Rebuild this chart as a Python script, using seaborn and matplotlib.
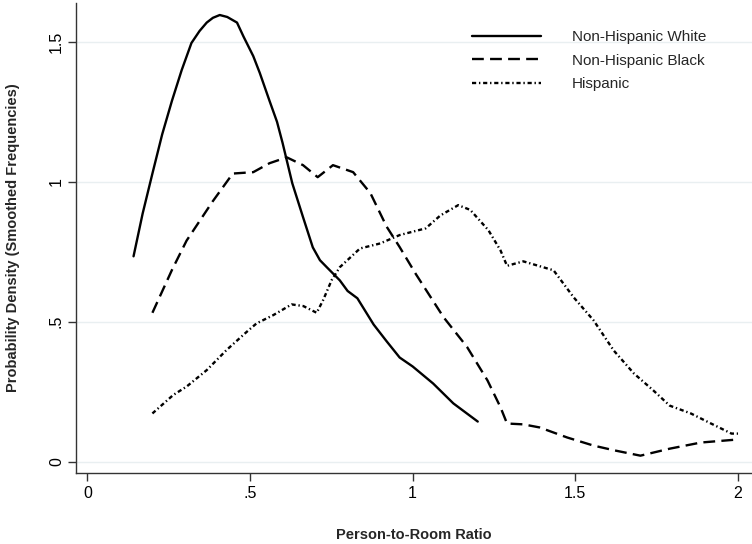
import pandas as pd
import seaborn as sns
import matplotlib.pyplot as plt

# values
white_x = [0.142, 0.17, 0.20, 0.23, 0.26, 0.29, 0.32, 0.345, 0.367, 0.386, 0.407, 0.43, 0.46,
           0.48, 0.51, 0.53, 0.56, 0.583, 0.60, 0.63, 0.663, 0.693, 0.715, 0.736, 0.776, 0.80,
           0.83, 0.88, 0.92, 0.96, 1.0, 1.063, 1.125, 1.2]
white_y = [0.734, 0.887, 1.03, 1.17, 1.29, 1.40, 1.497, 1.54, 1.57, 1.587, 1.597, 1.59, 1.57,
           1.52, 1.45, 1.39, 1.29, 1.215, 1.14, 0.995, 0.874, 0.766, 0.72, 0.695, 0.648, 0.61,
           0.584, 0.49, 0.43, 0.372, 0.34, 0.279, 0.208, 0.143]

black_x = [0.2, 0.26, 0.305, 0.385, 0.447, 0.51, 0.56, 0.613, 0.663, 0.708, 0.755, 0.817, 0.87,
           0.92, 0.96, 1.01, 1.095, 1.167, 1.23, 1.27, 1.29, 1.34, 1.39, 1.475, 1.556, 1.62,
           1.70, 1.79, 1.886, 2.0]
black_y = [0.532, 0.685, 0.79, 0.93, 1.03, 1.035, 1.067, 1.088, 1.06, 1.017, 1.06, 1.035, 0.96,
           0.84, 0.767, 0.67, 0.516, 0.41, 0.29, 0.194, 0.136, 0.133, 0.122, 0.086, 0.057, 0.04,
           0.021, 0.046, 0.068, 0.079]

hisp_x = [0.2, 0.264, 0.305, 0.367, 0.428, 0.49, 0.52, 0.572, 0.628, 0.664, 0.705, 0.725, 0.751,
          0.776, 0.838, 0.90, 0.96, 1.04, 1.085, 1.14, 1.177, 1.233, 1.27, 1.29, 1.34, 1.433,
          1.495, 1.556, 1.618, 1.68, 1.74, 1.79, 1.855, 1.917, 1.98, 2.0]
hisp_y = [0.172, 0.238, 0.268, 0.327, 0.399, 0.464, 0.494, 0.524, 0.562, 0.556, 0.532, 0.578,
          0.649, 0.695, 0.762, 0.78, 0.81, 0.834, 0.88, 0.917, 0.9, 0.827, 0.755, 0.70, 0.716,
          0.684, 0.587, 0.505, 0.397, 0.315, 0.254, 0.2, 0.172, 0.136, 0.10, 0.10]

x_ticks = [0, 0.5, 1, 1.5, 2]
x_labels = ["0", ".5", "1", "1.5", "2"]
y_ticks = [0, 0.5, 1, 1.5]
y_labels = ["0", ".5", "1", "1.5"]

sns.set_theme(style="white")
plt.rcParams['font.family'] = ['Liberation Sans', 'DejaVu Sans']
plt.rcParams['lines.scale_dashes'] = False

fig = plt.figure(figsize=(7.52, 5.44), dpi=100)
ax = fig.add_axes([0.1007, 0.1305, 0.8993, 0.864])

# light grid first so curves sit on top
for yv in y_ticks:
    ax.axhline(yv, color='#e9eff1', lw=1.0, zorder=0)

white = pd.DataFrame({'x': white_x, 'y': white_y})
black = pd.DataFrame({'x': black_x, 'y': black_y})
hisp = pd.DataFrame({'x': hisp_x, 'y': hisp_y})

sns.lineplot(data=white, x='x', y='y', ax=ax, color='black', lw=1.7, sort=False,
             estimator=None, label='Non-Hispanic White')
sns.lineplot(data=black, x='x', y='y', ax=ax, color='black', lw=1.7, sort=False,
             estimator=None, linestyle=(0, (8.5, 4.5)), label='Non-Hispanic Black')
sns.lineplot(data=hisp, x='x', y='y', ax=ax, color='black', lw=1.7, sort=False,
             estimator=None, linestyle=(0, (3, 2, 1, 2)), label='Hispanic')

ax.set_xlim(-0.0357, 2.043)
ax.set_ylim(-0.041, 1.64)
ax.set_xticks(x_ticks)
ax.set_xticklabels(x_labels)
ax.set_yticks(y_ticks)
ax.set_yticklabels(y_labels, rotation=90, va='center')

for side in ['top', 'right']:
    ax.spines[side].set_visible(False)
for side in ['left', 'bottom']:
    ax.spines[side].set_color('#333333')
    ax.spines[side].set_linewidth(1.0)

ax.tick_params(axis='both', direction='out', length=5.5, width=1.0, color='#333333',
               labelsize=11.5, labelcolor='black', left=True, bottom=True)
ax.tick_params(axis='y', pad=3)
ax.tick_params(axis='x', pad=4)

ax.set_xlabel("Person-to-Room Ratio", fontsize=10.5, fontweight='bold', labelpad=19)
ax.set_ylabel("Probability Density (Smoothed Frequencies)", fontsize=10.5,
              fontweight='bold', labelpad=21)

ax.legend(loc='upper left', bbox_to_anchor=(0.628, 0.945), bbox_transform=fig.transFigure,
          frameon=False, fontsize=11, handlelength=4.5, handletextpad=2.0,
          labelspacing=0.64, borderpad=0, borderaxespad=0)

fig.savefig("out.png", dpi=100)
